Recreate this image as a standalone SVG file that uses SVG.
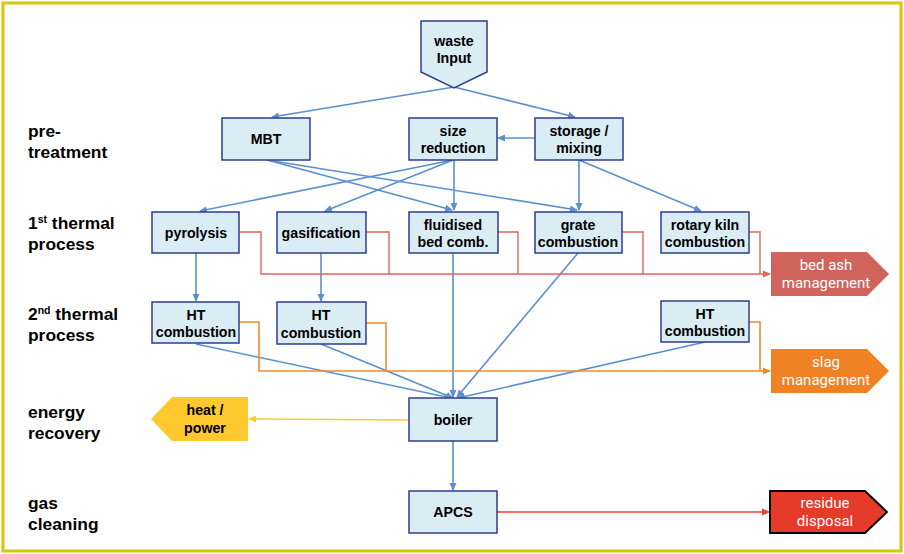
<svg xmlns="http://www.w3.org/2000/svg" width="904" height="554" viewBox="0 0 904 554">
<style>
.node{fill:#DAECF4;stroke:#2E3D8F;stroke-width:1.5}
.nt{font-family:"Liberation Sans",Arial,sans-serif;font-weight:bold;font-size:14.2px;fill:#000;text-anchor:middle}
.lab{font-family:"Liberation Sans",Arial,sans-serif;font-weight:bold;font-size:17.4px;fill:#000}
.wt{font-family:Roboto,"Open Sans",sans-serif;font-size:15px;fill:#fff;text-anchor:middle}
.b{fill:none;stroke:#5B8FCF;stroke-width:1.6}
.r{fill:none;stroke:#E0665A;stroke-width:1.4}
.o{fill:none;stroke:#F08A2E;stroke-width:1.6}
.y{fill:none;stroke:#FFC830;stroke-width:1.4}
.rd{fill:none;stroke:#E8402E;stroke-width:1.6}
</style>
<defs>
<marker id="ab" markerWidth="8" markerHeight="8" refX="7" refY="4" orient="auto" markerUnits="userSpaceOnUse"><path d="M0,0.5 L8,4 L0,7.5 Z" fill="#5B8FCF"/></marker>
<marker id="ar" markerWidth="8" markerHeight="8" refX="7" refY="4" orient="auto" markerUnits="userSpaceOnUse"><path d="M0,0.5 L8,4 L0,7.5 Z" fill="#E0665A"/></marker>
<marker id="ao" markerWidth="8" markerHeight="8" refX="7" refY="4" orient="auto" markerUnits="userSpaceOnUse"><path d="M0,0.5 L8,4 L0,7.5 Z" fill="#F08A2E"/></marker>
<marker id="ay" markerWidth="8" markerHeight="8" refX="7" refY="4" orient="auto" markerUnits="userSpaceOnUse"><path d="M0,0.5 L8,4 L0,7.5 Z" fill="#FFC830"/></marker>
<marker id="ard" markerWidth="8" markerHeight="8" refX="7" refY="4" orient="auto" markerUnits="userSpaceOnUse"><path d="M0,0.5 L8,4 L0,7.5 Z" fill="#E8402E"/></marker>
</defs>
<rect x="3" y="3" width="898" height="548" fill="#fff" stroke="#D8C600" stroke-width="3"/>

<g id="labels">
<text class="lab" x="28" y="137">pre-</text>
<text class="lab" x="28" y="158">treatment</text>
<text class="lab" x="28" y="229">1<tspan font-size="10.5" dy="-6">st</tspan><tspan dy="6"> thermal</tspan></text>
<text class="lab" x="28" y="250">process</text>
<text class="lab" x="28" y="320">2<tspan font-size="10.5" dy="-6">nd</tspan><tspan dy="6"> thermal</tspan></text>
<text class="lab" x="28" y="341">process</text>
<text class="lab" x="28" y="418">energy</text>
<text class="lab" x="28" y="439">recovery</text>
<text class="lab" x="28" y="509">gas</text>
<text class="lab" x="28" y="530">cleaning</text>
</g>

<g id="connectors">
<path class="b" d="M454,87 L272,117" marker-end="url(#ab)"/>
<path class="b" d="M454,87 L575,117" marker-end="url(#ab)"/>
<path class="b" d="M535,138 L498,138" marker-end="url(#ab)"/>
<path class="b" d="M267,160 L452,210" marker-end="url(#ab)"/>
<path class="b" d="M267,160 L577,210" marker-end="url(#ab)"/>
<path class="b" d="M453,160 L200,211" marker-end="url(#ab)"/>
<path class="b" d="M453,160 L325,211" marker-end="url(#ab)"/>
<path class="b" d="M454,160 L454,210" marker-end="url(#ab)"/>
<path class="b" d="M579,160 L579,210" marker-end="url(#ab)"/>
<path class="b" d="M579,160 L701,211" marker-end="url(#ab)"/>
<path class="b" d="M196,253 L196,301" marker-end="url(#ab)"/>
<path class="b" d="M321,253 L321,301" marker-end="url(#ab)"/>
<path class="b" d="M453,253 L453,397" marker-end="url(#ab)"/>
<path class="b" d="M578,253 L457,397" marker-end="url(#ab)"/>
<path class="b" d="M196,344 L451,398" marker-end="url(#ab)"/>
<path class="b" d="M321,344 L453,398" marker-end="url(#ab)"/>
<path class="b" d="M705,342 L458,398" marker-end="url(#ab)"/>
<path class="b" d="M453,441 L453,490" marker-end="url(#ab)"/>
<path class="r" d="M239,232 H261 V274 H770" marker-end="url(#ar)"/>
<path class="r" d="M366,232 H389 V274"/>
<path class="r" d="M498,232 H518 V274"/>
<path class="r" d="M622,232 H643 V274"/>
<path class="r" d="M749,232 H760 V274"/>
<path class="o" d="M239,322 H259 V371 H770" marker-end="url(#ao)"/>
<path class="o" d="M366,323 H386 V371"/>
<path class="o" d="M749,322 H760 V371"/>
<path class="y" d="M409,420 L249,419" marker-end="url(#ay)"/>
<path class="rd" d="M497,512 L769,512" marker-end="url(#ard)"/>
</g>

<g id="waste"><path class="node" d="M421,21 H487 V72 L454,88 L421,72 Z"/><text class="nt" x="454" y="46">waste</text><text class="nt" x="454" y="63">Input</text></g>
<g id="mbt"><rect class="node" x="222" y="118" width="88" height="42"/><text class="nt" x="266" y="144">MBT</text></g>
<g id="size"><rect class="node" x="409" y="118" width="88" height="42"/><text class="nt" x="453" y="136">size</text><text class="nt" x="453" y="153">reduction</text></g>
<g id="storage"><rect class="node" x="535" y="118" width="88" height="42"/><text class="nt" x="579" y="136">storage /</text><text class="nt" x="579" y="153">mixing</text></g>
<g id="pyrolysis"><rect class="node" x="152" y="212" width="87" height="41"/><text class="nt" x="196" y="238">pyrolysis</text></g>
<g id="gasification"><rect class="node" x="277" y="212" width="89" height="41"/><text class="nt" x="321" y="238">gasification</text></g>
<g id="fluidised"><rect class="node" x="409" y="212" width="89" height="41"/><text class="nt" x="453" y="230">fluidised</text><text class="nt" x="453" y="247">bed comb.</text></g>
<g id="grate"><rect class="node" x="535" y="212" width="87" height="41"/><text class="nt" x="578" y="230">grate</text><text class="nt" x="578" y="247">combustion</text></g>
<g id="rotary"><rect class="node" x="661" y="212" width="88" height="41"/><text class="nt" x="705" y="230">rotary kiln</text><text class="nt" x="705" y="247">combustion</text></g>
<g id="ht1"><rect class="node" x="152" y="302" width="87" height="41"/><text class="nt" x="196" y="320">HT</text><text class="nt" x="196" y="337">combustion</text></g>
<g id="ht2"><rect class="node" x="277" y="302" width="89" height="42"/><text class="nt" x="321" y="320">HT</text><text class="nt" x="321" y="338">combustion</text></g>
<g id="ht3"><rect class="node" x="661" y="301" width="88" height="41"/><text class="nt" x="705" y="319">HT</text><text class="nt" x="705" y="336">combustion</text></g>
<g id="boiler"><rect class="node" x="409" y="398" width="88" height="43"/><text class="nt" x="453" y="425">boiler</text></g>
<g id="apcs"><rect class="node" x="409" y="491" width="88" height="42"/><text class="nt" x="453" y="517">APCS</text></g>

<g id="bedash"><path d="M771,252 H867 L889,274 L867,296 H771 Z" fill="#D0645C"/><text class="wt" x="826" y="270">bed ash</text><text class="wt" x="826" y="288">management</text></g>
<g id="slag"><path d="M771,349 H867 L889,371 L867,393 H771 Z" fill="#EE8225"/><text class="wt" x="826" y="367">slag</text><text class="wt" x="826" y="385">management</text></g>
<g id="heat"><path d="M248,397 H172 L151,419 L172,441 H248 Z" fill="#FFC82E"/><text class="nt" x="205" y="415">heat /</text><text class="nt" x="205" y="433">power</text></g>
<g id="residue"><path d="M770,491 H865 L887,512 L865,533 H770 Z" fill="#E63A2A" stroke="#000" stroke-width="2"/><text class="wt" x="825" y="508">residue</text><text class="wt" x="825" y="526">disposal</text></g>
</svg>
